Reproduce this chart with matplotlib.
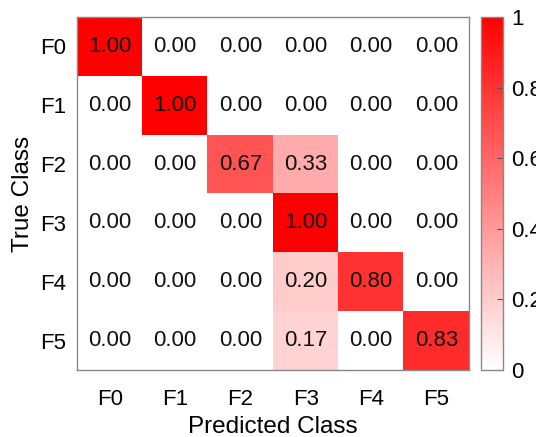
import numpy as np
import matplotlib.pyplot as plt
from matplotlib.colors import LinearSegmentedColormap

plt.rcParams['font.family'] = ['Liberation Sans', 'DejaVu Sans']

classes = ['F0', 'F1', 'F2', 'F3', 'F4', 'F5']
cm = np.array([
    [1.00, 0.00, 0.00, 0.00, 0.00, 0.00],
    [0.00, 1.00, 0.00, 0.00, 0.00, 0.00],
    [0.00, 0.00, 0.67, 0.33, 0.00, 0.00],
    [0.00, 0.00, 0.00, 1.00, 0.00, 0.00],
    [0.00, 0.00, 0.00, 0.20, 0.80, 0.00],
    [0.00, 0.00, 0.00, 0.17, 0.00, 0.83],
])
cbar_ticks = [0, 0.2, 0.4, 0.6, 0.8, 1]
cbar_labels = ['0', '0.2', '0.4', '0.6', '0.8', '1']

white_red = LinearSegmentedColormap.from_list('white_red', ['#ffffff', '#ff0000'])

fig = plt.figure(figsize=(5.36, 4.37), dpi=100)
W, H = 536, 437
ax = fig.add_axes([77 / W, 1 - 370 / H, 392 / W, 353 / H])
cax = fig.add_axes([481 / W, 1 - 370 / H, 22 / W, 353 / H])

im = ax.imshow(cm, cmap=white_red, vmin=0, vmax=1, aspect='auto')
for i in range(cm.shape[0]):
    for j in range(cm.shape[1]):
        ax.text(j, i, f'{cm[i, j]:.2f}', ha='center', va='center',
                fontsize=16, color='#111111')

ax.set_xticks(range(len(classes)))
ax.set_yticks(range(len(classes)))
ax.set_xticklabels(classes, fontsize=16)
ax.set_yticklabels(classes, fontsize=16)
ax.tick_params(axis='x', length=0, pad=14)
ax.tick_params(axis='y', length=0, pad=8)
ax.set_xlabel('Predicted Class', fontsize=17.5, labelpad=4)
ax.set_ylabel('True Class', fontsize=17.5, labelpad=4)
for s in ax.spines.values():
    s.set_color('#888888')
    s.set_linewidth(1)

cb = fig.colorbar(im, cax=cax, ticks=cbar_ticks)
cb.ax.set_yticklabels(cbar_labels, fontsize=16)
cb.ax.tick_params(direction='in', length=4, width=0.8, color='#555555', pad=6)
cb.outline.set_edgecolor('#888888')
cb.outline.set_linewidth(1)

fig.savefig('out.png', dpi=100)
